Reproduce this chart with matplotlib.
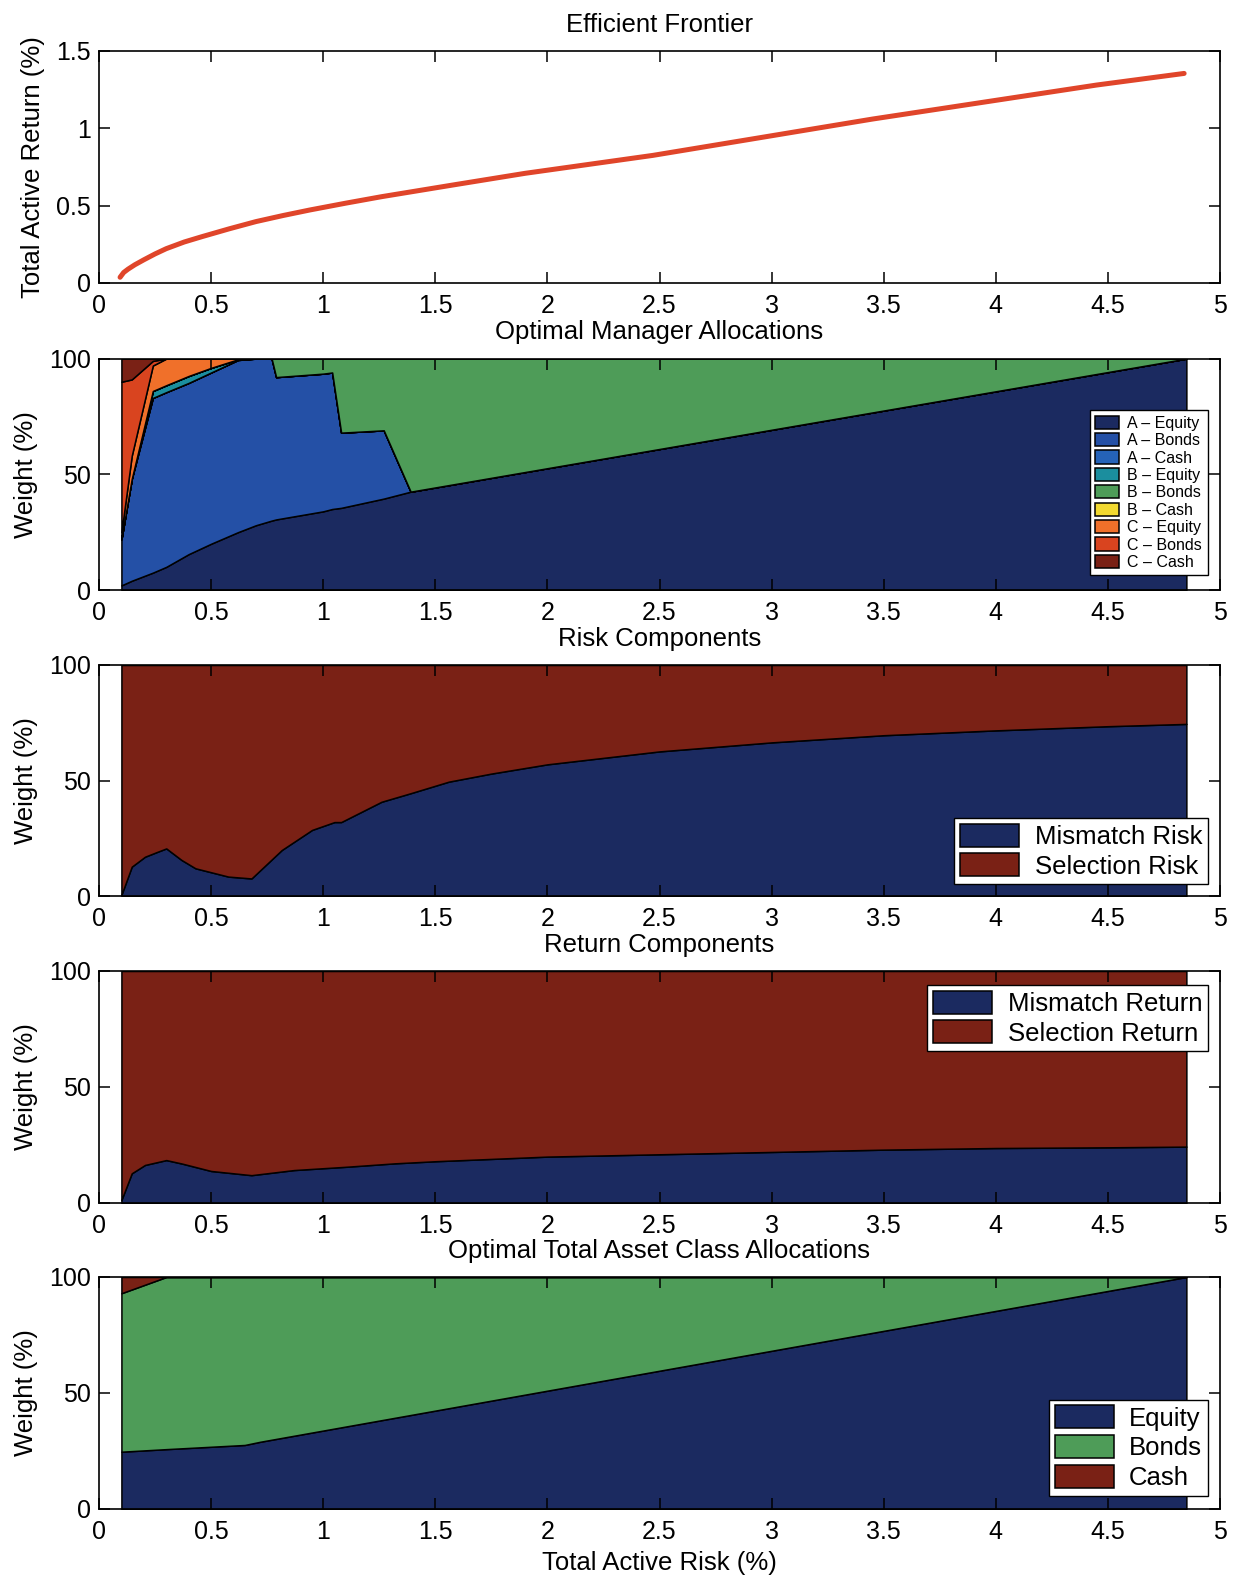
import matplotlib
matplotlib.use("Agg")
import matplotlib.pyplot as plt
from matplotlib.ticker import FuncFormatter

plt.rcParams['font.family'] = ['Liberation Sans', 'DejaVu Sans']

# Efficient frontier: total active risk vs total active return (%)
frontier_risk = [0.094, 0.11, 0.13, 0.16, 0.20, 0.25, 0.30, 0.38, 0.46, 0.58,
                 0.70, 0.82, 0.94, 1.10, 1.26, 1.58, 1.90, 2.47, 2.95, 3.45,
                 3.95, 4.45, 4.84]
frontier_return = [0.037, 0.068, 0.09, 0.118, 0.15, 0.188, 0.222, 0.265, 0.30,
                   0.35, 0.397, 0.436, 0.472, 0.516, 0.558, 0.634, 0.709,
                   0.825, 0.94, 1.06, 1.17, 1.28, 1.355]

# Manager allocations (% weight) along the frontier
x_mgr = [0.10, 0.146, 0.24, 0.30, 0.40, 0.50, 0.62, 0.70, 0.77, 0.79,
         1.00, 1.04, 1.08, 1.27, 1.39, 4.85]
a_equity = [2, 4, 7.5, 10, 15.5, 20, 25, 28, 30, 30.5, 34, 35, 35.5, 39.5, 42.5, 100]
a_bonds = [20, 44, 75.5, 75.5, 74, 74, 74.4, 72, 70, 61.5, 59.5, 59, 32.5, 29.5, 0, 0]
a_cash = [0, 0, 0, 0, 0, 0, 0, 0, 0, 0, 0, 0, 0, 0, 0, 0]
b_equity = [0, 0, 3, 3, 3, 2, 0.3, 0, 0, 0, 0, 0, 0, 0, 0, 0]
b_bonds = [0, 0, 0, 0, 0, 0, 0, 0, 0, 8, 6.5, 6, 32, 31, 57.5, 0]
b_cash = [0, 0, 0, 0, 0, 0, 0, 0, 0, 0, 0, 0, 0, 0, 0, 0]
c_equity = [3, 10, 11, 11.5, 7.5, 4, 0.3, 0, 0, 0, 0, 0, 0, 0, 0, 0]
c_bonds = [65, 33, 2, 0, 0, 0, 0, 0, 0, 0, 0, 0, 0, 0, 0, 0]
c_cash = [10, 9, 1, 0, 0, 0, 0, 0, 0, 0, 0, 0, 0, 0, 0, 0]
mgr_labels = ['A – Equity', 'A – Bonds', 'A – Cash', 'B – Equity', 'B – Bonds',
              'B – Cash', 'C – Equity', 'C – Bonds', 'C – Cash']

# Risk decomposition (%)
x_risk = [0.10, 0.146, 0.205, 0.257, 0.30, 0.368, 0.43, 0.577, 0.68, 0.815,
          0.95, 1.05, 1.08, 1.26, 1.39, 1.56, 1.75, 2.0, 2.5, 3.0, 3.5, 4.0,
          4.5, 4.85]
mismatch_risk = [0.5, 12.7, 17, 19, 20.6, 15.6, 12, 8.4, 7.6, 19.9, 28.6, 32,
                 32, 40.8, 44.5, 49.5, 53, 57, 62.6, 66.5, 69.6, 71.7, 73.5, 74.5]
selection_risk = [99.5, 87.3, 83, 81, 79.4, 84.4, 88, 91.6, 92.4, 80.1, 71.4,
                  68, 68, 59.2, 55.5, 50.5, 47, 43, 37.4, 33.5, 30.4, 28.3,
                  26.5, 25.5]

# Return decomposition (%)
x_ret = [0.10, 0.146, 0.205, 0.30, 0.37, 0.50, 0.68, 0.87, 1.10, 1.32, 1.5,
         2.0, 2.5, 3.0, 3.5, 4.0, 4.5, 4.85]
mismatch_ret = [1.3, 12.8, 16.4, 18.5, 17, 13.8, 12, 14.2, 15.6, 17.1, 18,
                20, 21, 22, 23, 23.7, 24, 24.3]
selection_ret = [98.7, 87.2, 83.6, 81.5, 83, 86.2, 88, 85.8, 84.4, 82.9, 82,
                 80, 79, 78, 77, 76.3, 76, 75.7]

# Total asset class allocation (%)
x_asset = [0.10, 0.30, 0.65, 0.72, 4.85]
equity = [24.7, 25.8, 27.6, 29, 100]
bonds = [68.3, 74.2, 72.4, 71, 0]
cash = [7, 0, 0, 0, 0]

navy = '#1b2a60'
dark_red = '#7a2115'
green = '#4e9c58'
mgr_colors = [navy, '#2450a6', '#2563b8', '#1b8e9e', green, '#f2d930',
              '#f0702a', '#d9441f', dark_red]

fs = 18.5      # titles and axis labels
tfs = 18       # tick labels
lfs = 18.5     # legends
W, H = 1235, 1580
fig = plt.figure(figsize=(W / 100, H / 100), dpi=100)

# axes boxes in pixels: (top, bottom)
boxes = [(51, 283), (358.6, 590), (665, 896), (971, 1203), (1277, 1509)]
left_px, right_px = 99, 1220
axes = []
for top, bot in boxes:
    ax = fig.add_axes([left_px / W, 1 - bot / H, (right_px - left_px) / W, (bot - top) / H])
    axes.append(ax)

fmt = FuncFormatter(lambda v, p: '%g' % v)
for ax in axes:
    ax.set_xlim(0, 5)
    ax.set_xticks([0, 0.5, 1, 1.5, 2, 2.5, 3, 3.5, 4, 4.5, 5])
    ax.xaxis.set_major_formatter(fmt)
    ax.yaxis.set_major_formatter(fmt)
    ax.tick_params(direction='in', length=8, width=1.1, top=True, right=True,
                   labelsize=tfs)
    ax.tick_params(axis='x', pad=8)
    ax.tick_params(axis='y', pad=6)
    for s in ax.spines.values():
        s.set_linewidth(1.2)

edge = dict(edgecolor='black', linewidth=1.1)
big_legend = dict(fontsize=lfs, borderaxespad=0, handlelength=2.3,
                  handleheight=1.0, labelspacing=0.18, handletextpad=0.6,
                  borderpad=0.22, fancybox=False, framealpha=1, edgecolor='black')

# Efficient frontier
ax = axes[0]
ax.plot(frontier_risk, frontier_return, color='#e0452a', linewidth=3.6,
        solid_capstyle='round')
ax.set_ylim(0, 1.5)
ax.set_yticks([0, 0.5, 1, 1.5])
ax.set_title('Efficient Frontier', fontsize=fs, pad=14)
ax.set_ylabel('Total Active Return (%)', fontsize=fs, labelpad=8)

# Manager allocations
ax = axes[1]
ax.stackplot(x_mgr, a_equity, a_bonds, a_cash, b_equity, b_bonds, b_cash,
             c_equity, c_bonds, c_cash, colors=mgr_colors, labels=mgr_labels, **edge)
ax.set_title('Optimal Manager Allocations', fontsize=fs, pad=14)
ax.legend(loc='center right', bbox_to_anchor=(0.989, 0.42), fontsize=11.5,
          borderaxespad=0, handlelength=1.5, handleheight=0.9,
          labelspacing=0.14, handletextpad=0.5, borderpad=0.35,
          fancybox=False, framealpha=1, edgecolor='black')

# Risk components
ax = axes[2]
ax.stackplot(x_risk, mismatch_risk, selection_risk, colors=[navy, dark_red],
             labels=['Mismatch Risk', 'Selection Risk'], **edge)
ax.set_title('Risk Components', fontsize=fs, pad=14)
ax.legend(loc='lower right', bbox_to_anchor=(0.989, 0.05), **big_legend)

# Return components
ax = axes[3]
ax.stackplot(x_ret, mismatch_ret, selection_ret, colors=[navy, dark_red],
             labels=['Mismatch Return', 'Selection Return'], **edge)
ax.set_title('Return Components', fontsize=fs, pad=14)
ax.legend(loc='upper right', bbox_to_anchor=(0.989, 0.94), **big_legend)

# Total asset class allocations
ax = axes[4]
ax.stackplot(x_asset, equity, bonds, cash, colors=[navy, green, dark_red],
             labels=['Equity', 'Bonds', 'Cash'], **edge)
ax.set_title('Optimal Total Asset Class Allocations', fontsize=fs, pad=14)
ax.legend(loc='lower right', bbox_to_anchor=(0.989, 0.056), **big_legend)
ax.set_xlabel('Total Active Risk (%)', fontsize=fs, labelpad=5)

for ax in axes[1:]:
    ax.set_ylim(0, 100)
    ax.set_yticks([0, 50, 100])
    ax.set_ylabel('Weight (%)', fontsize=fs, labelpad=8)

fig.savefig('out.png', dpi=100)
